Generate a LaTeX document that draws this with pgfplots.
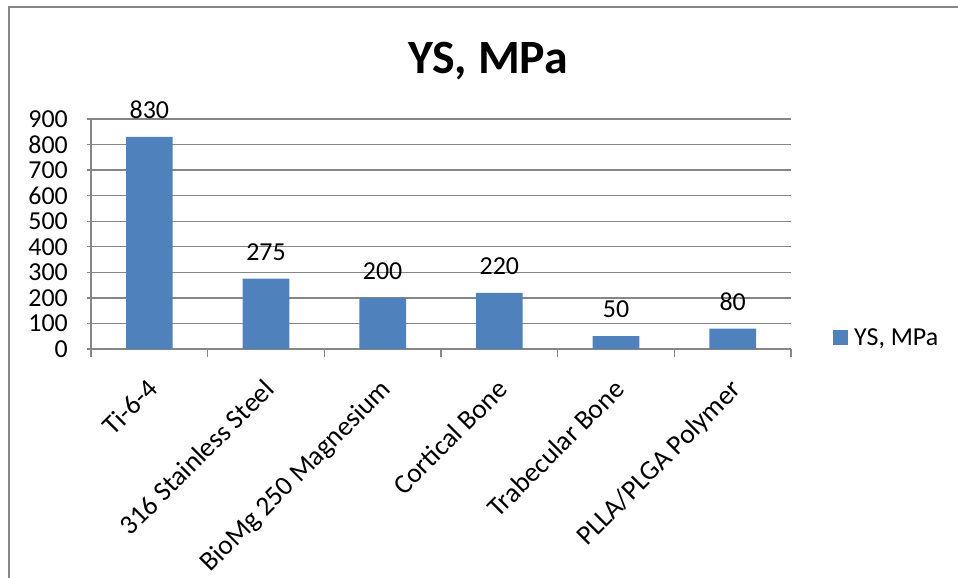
\documentclass[border=0pt]{standalone}
\usepackage{pgfplots}
\pgfplotsset{compat=1.18}
\usepackage{fontspec}
\setmainfont{Carlito}
\definecolor{barblue}{HTML}{4F81BD}
\definecolor{gridgray}{HTML}{868686}
\begin{document}
\begin{tikzpicture}[x=1bp,y=1bp]
\useasboundingbox (0,0) rectangle (958,578);
\draw[gridgray, line width=2bp] (9,0) -- (9,571) -- (958,571);
\node[font=\fontsize{48}{56}\selectfont\bfseries] at (488,517) {YS, MPa};
\begin{axis}[
  scale only axis,
  width=700bp, height=230bp,
  at={(91bp,229bp)}, anchor=south west,
  xmin=-0.5, xmax=5.5,
  ymin=0, ymax=900,
  ytick={0,100,...,900},
  xtick={0,...,5},
  xticklabels={Ti-6-4,316 Stainless Steel,BioMg 250 Magnesium,Cortical Bone,Trabecular Bone,PLLA/PLGA Polymer},
  minor xtick={-0.5,0.5,...,5.5},
  major x tick style={draw=none},
  minor x tick style={gridgray, line width=1.3bp},
  minor tick length=8bp,
  major tick length=8bp,
  tick align=outside,
  axis lines=left,
  axis line style={-, gridgray, line width=1.3bp},
  y tick style={gridgray, line width=1.3bp},
  ymajorgrids,
  grid style={gridgray, line width=1.3bp},
  /pgf/number format/assume math mode=true,
  tick label style={font=\fontsize{26}{30}\selectfont},
  yticklabel shift=10bp,
  yticklabel style={inner sep=0pt, xshift=-9bp},
  xticklabel style={font=\fontsize{27.5}{32}\selectfont, rotate=45, anchor=north east, inner sep=0pt, xshift=-17bp, yshift=-12bp},
  ybar, bar width=0.4,
  nodes near coords,
  nodes near coords style={font=\fontsize{26}{30}\selectfont, black, inner sep=2bp, yshift=16bp},
  legend style={at={(1.06,0.048)}, anchor=west, draw=none, fill=none, font=\fontsize{26}{30}\selectfont, inner sep=0pt,
    nodes={inner sep=0pt, anchor=west}},
  legend image code/.code={\fill[barblue] (0,-7.5bp) rectangle (15bp,7.5bp);},
  legend cell align=left,
  clip=false,
]
\addplot[fill=barblue, draw=none] coordinates {(0,830) (1,275) (2,200) (3,220) (4,50) (5,80)};
\addlegendentry{\hspace{6bp}YS, MPa}
\end{axis}
\end{tikzpicture}
\end{document}
